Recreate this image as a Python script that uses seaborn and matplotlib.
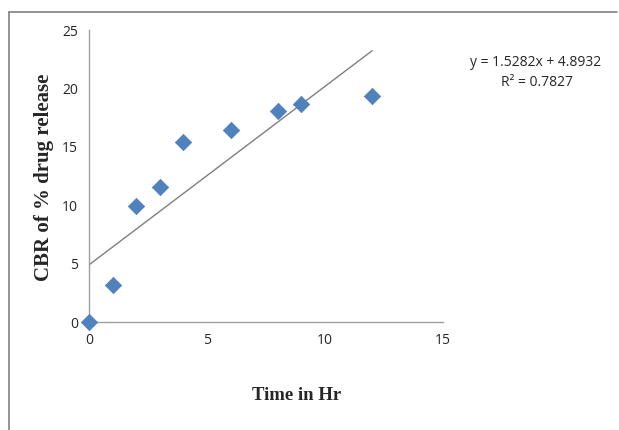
import matplotlib
matplotlib.use("Agg")
import matplotlib.pyplot as plt
from matplotlib.lines import Line2D
import seaborn as sns
import pandas as pd
import numpy as np

# data
time_hr = [0, 1, 2, 3, 4, 6, 8, 9, 12]
cbr_release = [0.0, 3.2, 9.9, 11.6, 15.4, 16.4, 18.05, 18.65, 19.35]
slope = 1.5282
intercept = 4.8932
r_squared = 0.7827
x_ticks = [0, 5, 10, 15]
y_ticks = [0, 5, 10, 15, 20, 25]

sns.set_style("white")
plt.rcParams['font.family'] = ['Open Sans', 'DejaVu Sans']

fig = plt.figure(figsize=(6.19, 4.30), dpi=100)
ax = fig.add_axes([89/619, 1-322/430, (443-89)/619, (322-30)/430])

df = pd.DataFrame({"Time": time_hr, "CBR": cbr_release})
sns.scatterplot(data=df, x="Time", y="CBR", ax=ax, marker="D", s=70,
                color="#4F81BD", edgecolor="#4F81BD", linewidth=0.5, zorder=3, clip_on=False)

tx = np.array([min(time_hr), max(time_hr)], dtype=float)
trend = pd.DataFrame({"x": tx, "y": slope * tx + intercept})
sns.lineplot(data=trend, x="x", y="y", ax=ax, color="#7F7F7F", linewidth=1.0, zorder=2)

ax.set_xlim(0, 15)
ax.set_ylim(0, 25)
ax.set_xticks(x_ticks)
ax.set_yticks(y_ticks)
ax.tick_params(axis='both', length=0, labelsize=10, colors="#262626", pad=8)
for s in ["top", "right"]:
    ax.spines[s].set_visible(False)
for s in ["left", "bottom"]:
    ax.spines[s].set_color("#A0A0A0")
    ax.spines[s].set_linewidth(1.0)

ax.set_xlabel("")
ax.set_ylabel("")
fig.text(297/619, 1-396/430, "Time in Hr", ha="center", va="center",
         fontsize=13.5, fontweight="bold", family="Liberation Serif")
fig.text(44/619, 1-177/430, "CBR of % drug release", ha="center", va="center",
         rotation=90, fontsize=15, fontweight="bold", family="Liberation Serif")

fig.text(536/619, 1-62/430, f"y = {slope}x + {intercept}", ha="center", va="center",
         fontsize=10, color="#262626")
fig.text(537/619, 1-83/430, f"R² = {r_squared}", ha="center", va="center",
         fontsize=10, color="#262626")

# outer frame lines (top and left)
fig.add_artist(Line2D([9/619, 617/619], [1-12/430, 1-12/430], transform=fig.transFigure,
                      color="#808080", linewidth=1.2))
fig.add_artist(Line2D([9/619, 9/619], [1-12/430, 0], transform=fig.transFigure,
                      color="#808080", linewidth=1.2))

fig.savefig("out.png", dpi=100)
